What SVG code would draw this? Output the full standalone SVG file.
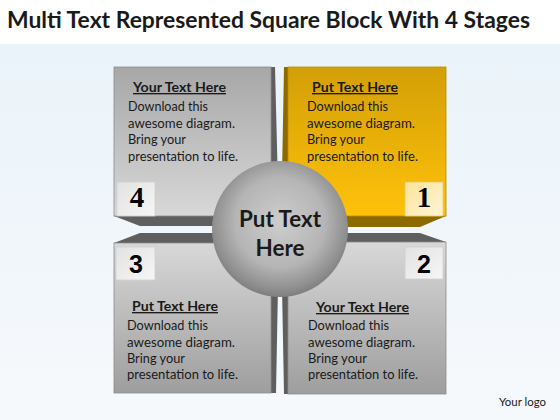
<svg xmlns="http://www.w3.org/2000/svg" width="560" height="420" viewBox="0 0 560 420">
<defs>
<linearGradient id="bg" x1="0" y1="0" x2="0" y2="1"><stop offset="0" stop-color="#eaf3f9"/><stop offset="1" stop-color="#f6f9fc"/></linearGradient>
<linearGradient id="g4" x1="0" y1="0" x2="0" y2="1"><stop offset="0" stop-color="#a7a7a7"/><stop offset="1" stop-color="#d8d8d8"/></linearGradient>
<linearGradient id="gB" x1="0" y1="0" x2="0" y2="1"><stop offset="0" stop-color="#d8d8d8"/><stop offset="1" stop-color="#9e9e9e"/></linearGradient>
<linearGradient id="gY" x1="0" y1="0" x2="0" y2="1"><stop offset="0" stop-color="#d29f06"/><stop offset="1" stop-color="#ffc20a"/></linearGradient>
<linearGradient id="nb" x1="0" y1="0" x2="1" y2="1"><stop offset="0" stop-color="#e2e2e2"/><stop offset="1" stop-color="#f6f6f6"/></linearGradient>
<linearGradient id="nbY" x1="0" y1="0" x2="1" y2="1"><stop offset="0" stop-color="#fbe39a"/><stop offset="1" stop-color="#fff5d6"/></linearGradient>
<radialGradient id="ball" cx="0.5" cy="0.45" r="0.55"><stop offset="0" stop-color="#cdcdcd"/><stop offset="0.6" stop-color="#b5b5b5"/><stop offset="0.9" stop-color="#8e8e8e"/><stop offset="1" stop-color="#7e7e7e"/></radialGradient>
<style>
.t{font-family:Lato,"Open Sans","Liberation Sans",sans-serif;fill:#1a1a1a}
.h{font-size:13.5px;font-weight:bold;text-decoration:underline}
.b{font-size:13px}
.face{stroke:#8c8c8c;stroke-width:0.8}
.wg{fill:#5f5f5f}
.wy{fill:#8d6a00}
.box{fill:url(#nb);stroke:#cfcfcf;stroke-width:0.8}
.nser{font-family:"Liberation Serif","DejaVu Serif",serif;font-weight:bold;font-size:29px;fill:#000;text-anchor:middle}
.nsan{font-family:"Liberation Sans",Arial,sans-serif;font-weight:bold;font-size:25px;fill:#000;text-anchor:middle}
</style>
</defs>
<rect width="560" height="420" fill="#ffffff"/>
<rect y="44" width="560" height="376" fill="url(#bg)"/>
<text x="7" y="28" class="t" font-size="22" font-weight="bold" textLength="523" lengthAdjust="spacingAndGlyphs" fill="#111">Multi Text Represented Square Block With 4 Stages</text>

<g id="connectors"/>

<g id="block4">
<polygon class="wg" points="271,67 275,67 279,226 271,216"/>
<polygon class="wg" points="114,216 271,216 279,226 140,226"/>
<rect class="face" x="114" y="67" width="157" height="149" fill="url(#g4)"/>
<rect class="box" x="117" y="182" width="38" height="34"/>
<text class="nser" x="137" y="207">4</text>
<text class="t h" x="133" y="92" textLength="93" lengthAdjust="spacingAndGlyphs">Your Text Here</text>
<text class="t b" x="128" y="111" textLength="80" lengthAdjust="spacingAndGlyphs">Download this</text>
<text class="t b" x="128" y="128" textLength="107" lengthAdjust="spacingAndGlyphs">awesome diagram.</text>
<text class="t b" x="128" y="144" textLength="58" lengthAdjust="spacingAndGlyphs">Bring your</text>
<text class="t b" x="128" y="161" textLength="110" lengthAdjust="spacingAndGlyphs">presentation to life.</text>
</g>

<g id="block1">
<polygon class="wy" points="288,67 284,67 281,227 288,216"/>
<polygon class="wy" points="288,216 446,216 420,227 281,227"/>
<rect x="288" y="67" width="158" height="149" fill="url(#gY)" stroke="#b88d00" stroke-width="0.8"/>
<rect x="405" y="182" width="38" height="34" fill="url(#nbY)" stroke="#e8c860" stroke-width="0.8"/>
<text class="nser" x="424" y="207">1</text>
<text class="t h" x="312" y="92" textLength="86" lengthAdjust="spacingAndGlyphs">Put Text Here</text>
<text class="t b" x="307" y="111" textLength="81" lengthAdjust="spacingAndGlyphs">Download this</text>
<text class="t b" x="307" y="128" textLength="108" lengthAdjust="spacingAndGlyphs">awesome diagram.</text>
<text class="t b" x="307" y="144" textLength="58" lengthAdjust="spacingAndGlyphs">Bring your</text>
<text class="t b" x="307" y="161" textLength="111" lengthAdjust="spacingAndGlyphs">presentation to life.</text>
</g>

<g id="block3">
<polygon class="wg" points="114,243 140,233 279,233 271,243"/>
<polygon class="wg" points="271,243 279,233 276,393 271,393"/>
<rect class="face" x="114" y="243" width="157" height="150" fill="url(#gB)"/>
<rect class="box" x="116" y="247" width="39" height="33"/>
<text class="nsan" x="136" y="273">3</text>
<text class="t h" x="132" y="311" textLength="86" lengthAdjust="spacingAndGlyphs">Put Text Here</text>
<text class="t b" x="127" y="330" textLength="81" lengthAdjust="spacingAndGlyphs">Download this</text>
<text class="t b" x="127" y="347" textLength="108" lengthAdjust="spacingAndGlyphs">awesome diagram.</text>
<text class="t b" x="127" y="363" textLength="58" lengthAdjust="spacingAndGlyphs">Bring your</text>
<text class="t b" x="127" y="379" textLength="111" lengthAdjust="spacingAndGlyphs">presentation to life.</text>
</g>

<g id="block2">
<polygon class="wg" points="281,233 420,233 446,242 288,242"/>
<polygon class="wg" points="288,242 281,233 284,394 288,394"/>
<rect class="face" x="288" y="242" width="158" height="152" fill="url(#gB)"/>
<rect class="box" x="405" y="247" width="38" height="32"/>
<text class="nsan" x="424" y="273">2</text>
<text class="t h" x="316" y="312" textLength="93" lengthAdjust="spacingAndGlyphs">Your Text Here</text>
<text class="t b" x="308" y="330" textLength="81" lengthAdjust="spacingAndGlyphs">Download this</text>
<text class="t b" x="308" y="347" textLength="107" lengthAdjust="spacingAndGlyphs">awesome diagram.</text>
<text class="t b" x="308" y="363" textLength="59" lengthAdjust="spacingAndGlyphs">Bring your</text>
<text class="t b" x="308" y="379" textLength="110" lengthAdjust="spacingAndGlyphs">presentation to life.</text>
</g>

<g id="center">
<circle cx="280" cy="229" r="68" fill="url(#ball)"/>
<text class="t" x="280" y="227" font-size="22" font-weight="bold" text-anchor="middle" textLength="82" lengthAdjust="spacingAndGlyphs" fill="#111">Put Text</text>
<text class="t" x="280" y="256" font-size="22" font-weight="bold" text-anchor="middle" textLength="49" lengthAdjust="spacingAndGlyphs" fill="#111">Here</text>
</g>

<text class="t" x="499" y="406" font-size="11" textLength="47" lengthAdjust="spacingAndGlyphs" fill="#333">Your logo</text>
</svg>
